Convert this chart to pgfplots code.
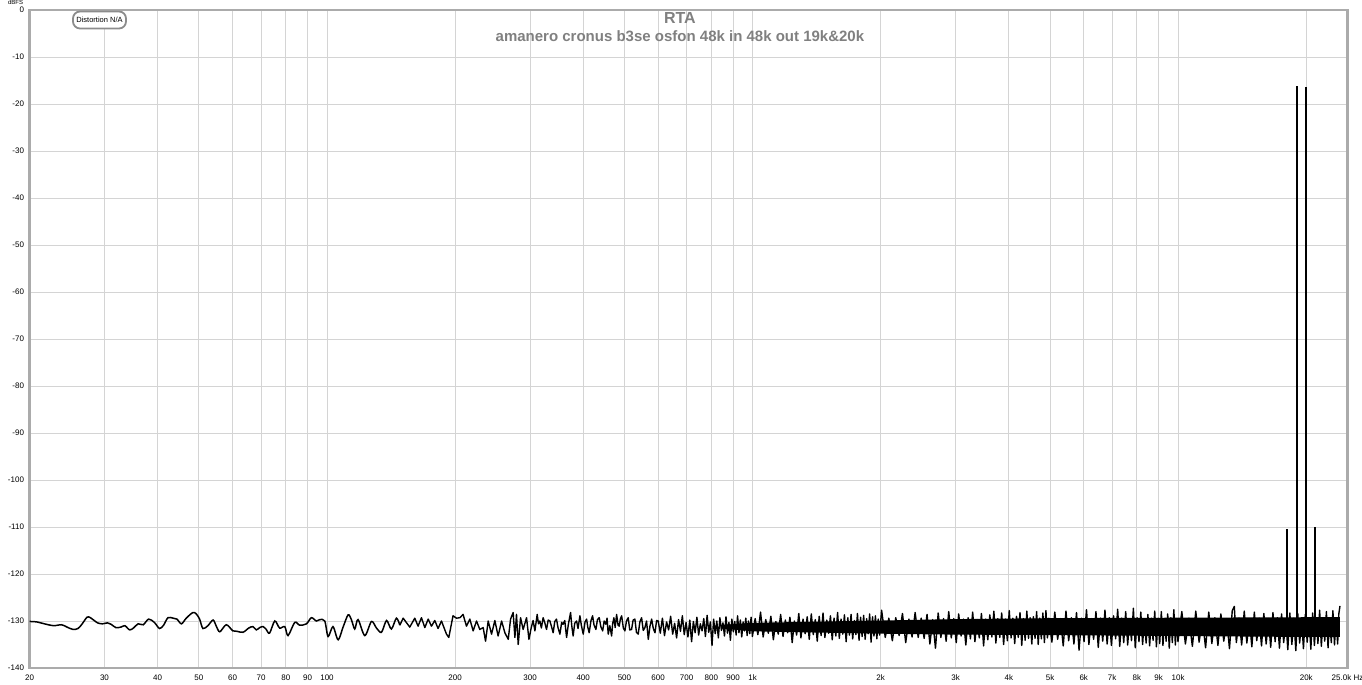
\documentclass[border=0pt]{standalone}
\usepackage{fontspec}
\setmainfont{Liberation Sans}
\usepackage{pgfplots}
\pgfplotsset{compat=1.18}

\begin{document}
\begin{tikzpicture}
\begin{axis}[
    scale only axis,
    width=1318pt, height=658pt,
    xmode=log,
    xmin=20, xmax=25000,
    ymin=-140, ymax=0,
    xtick={20,30,40,50,60,70,80,90,100,200,300,400,500,600,700,800,900,1000,2000,3000,4000,5000,6000,7000,8000,9000,10000,20000,25000},
    xticklabels={20,30,40,50,60,70,80,90,100,200,300,400,500,600,700,800,900,1k,2k,3k,4k,5k,6k,7k,8k,9k,10k,20k,25.0k Hz},
    ytick={0,-10,-20,-30,-40,-50,-60,-70,-80,-90,-100,-110,-120,-130,-140},
    yticklabels={0,-10,-20,-30,-40,-50,-60,-70,-80,-90,-100,-110,-120,-130,-140},
    grid=major,
    major grid style={draw=black!17, line width=0.9pt},
    major tick length=0pt,
    axis line style={draw=black!33, line width=2.6pt},
    tick label style={font=\fontsize{8}{9}\selectfont, text=black},
    xticklabel style={yshift=-3.5pt},
    yticklabel style={xshift=-2pt},
    clip mode=individual,
]

% low frequency part, smooth
\addplot[black, line width=1.5pt, smooth] coordinates {
(20,-130.1)(20.8,-130.2)(21.9,-130.7)(22.8,-131.0)(23.8,-130.8)(24.5,-131.3)(25.3,-131.8)(26.0,-131.6)
(26.6,-130.6)(27.3,-129.2)(27.8,-129.3)(28.9,-130.4)(29.7,-130.6)(30.5,-130.4)(31.1,-130.7)(31.9,-131.4)
(32.8,-131.3)(33.5,-131.0)(34.4,-131.9)(35.2,-131.4)(36.0,-130.6)(37.0,-130.8)(38.1,-129.6)(39.3,-130.3)
(40.4,-131.6)(41.3,-130.9)(42.3,-129.3)(43.5,-129.4)(44.4,-129.6)(45.5,-130.6)(46.7,-129.4)(48.4,-128.2)
(49.3,-128.5)(50.2,-129.6)(51.1,-131.6)(52.5,-131.0)(54.0,-129.8)(55.0,-131.2)(56.0,-132.3)(58.0,-130.8)
(60.1,-132.1)(61.5,-132.2)(63.5,-132.4)(65.5,-131.5)(67.0,-131.2)(68.2,-131.9)(69.5,-131.4)(70.8,-131.2)
(72.0,-131.8)(73.3,-132.6)(75.4,-130.0)(77.4,-131.5)(79.6,-131.2)(81.0,-133.1)(84.0,-130.3)(86.3,-130.9)
(89.5,-130.6)(91.9,-129.3)(94.4,-130.0)(96.2,-129.7)(98.8,-130.0)(100.6,-133.3)(103.3,-131.2)(106.2,-134.0)
(109.1,-131.3)(112.1,-128.7)(114.1,-129.7)(116.2,-131.7)(118.3,-129.7)(122.7,-133.1)(127.2,-130.1)(130.7,-131.5)
(134.3,-132.4)(138.0,-129.9)(141.7,-131.7)(145.6,-129.4)(148.3,-130.9)
};

% dense noise core
\addplot[fill=black, draw=none] coordinates {
(850,-130.8)(1000,-130.4)(1500,-130.1)(2000,-129.9)(3000,-129.6)(5000,-129.4)(10000,-129.3)(20000,-129.2)(24000,-129.2)
(24000,-133.4)(20000,-133.4)(10000,-133.2)(5000,-133.0)(3000,-132.9)(2000,-132.7)(1500,-132.5)(1000,-132.2)(850,-131.6)
};

% noise floor
\addplot[black, line width=1.4pt, line join=round] coordinates {
(148.3,-130.9)(151,-129.4)(156.5,-131.3)(160.8,-129.4)(163.7,-131.1)(166.7,-129.3)(169.8,-131.4)(172.9,-129.6)
(176,-131.1)(179.2,-129.9)(182.4,-131.6)(185.8,-130.0)(190.9,-132.8)(193.3,-133.5)(197.8,-128.9)(201.5,-129.4)
(205.2,-129.3)(208.8,-128.6)(212.7,-131.1)(216.6,-129.6)(220.5,-132.1)(224.6,-130.0)(228.6,-131.8)(232.8,-131.4)
(235.8,-134.3)(239.2,-130.0)(243.6,-132.8)(248,-129.9)(252.4,-133.2)(257.2,-130.0)(261.8,-132.5)(266.6,-133.9)
(270,-129.6)(273.8,-128.2)(276.4,-133.5)(278.8,-128.6)(281.4,-135.0)(285,-129.3)(289,-131.8)(294.4,-129.3)
(298.2,-133.9)(302,-131.4)(305,-129.9)(308,-132.1)(311.8,-128.6)(314,-130.6)(316.4,-130.0)(319,-131.5)
(322,-129.3)(325,-130.4)(328,-131.8)(331,-129.8)(334,-130.0)(337,-131.2)(340,-132.5)(343,-130.1)
(346.2,-129.6)(349,-131.4)(352.6,-132.8)(356,-130.3)(358.8,-130.7)(362,-129.9)(365.6,-133.5)(369,-130.8)
(373.6,-128.2)(376,-131.0)(378.8,-133.2)(382,-130.5)(386,-130.0)(389,-131.6)(393,-128.9)(396,-130.9)
(400,-132.8)(404,-130.2)(407.4,-129.6)(410,-131.3)(413.2,-132.5)(417,-130.0)(420.8,-128.9)(424,-130.8)
(428.4,-131.8)(432,-129.7)(436.2,-129.3)(440,-131.2)(444.4,-132.1)(448,-130.0)(452.2,-130.7)(455,-129.4)
(458,-132.8)(462,-131.0)(466.4,-133.2)(469,-130.6)(472.2,-129.3)(475.5,-131.4)(479.2,-128.6)(483,-130.9)
(486,-131.1)(489,-129.6)(492.4,-128.9)(497,-131.5)(501.2,-132.1)(505.5,-130.0)(510.2,-129.3)(514.5,-131.9)
(519.6,-131.8)(524,-129.8)(529,-129.6)(533.5,-132.4)(538.6,-132.8)(543.5,-130.2)(548.6,-129.3)(553.5,-132.0)
(558.6,-131.4)(563.5,-130.0)(568.8,-133.9)(574,-131.1)(579.2,-129.6)(584.5,-131.6)(589.8,-132.5)(595,-129.9)
(600.2,-130.0)(607,-132.6)(614,-129.4)(621,-133.1)(628,-130.2)(635,-131.9)(642,-129.0)(649,-132.8)
(656,-130.5)(663,-133.6)(670,-129.7)(677,-132.2)(684,-128.9)(691,-132.9)(698,-130.3)(705,-133.4)
(712,-129.8)(719,-134.4)(726,-130.1)(733,-132.5)(740,-129.2)(747,-133.0)(754,-130.6)(761,-132.1)
(768,-129.5)(775,-133.3)(782,-128.8)(789,-132.4)(796,-130.2)(803,-135.2)(810,-129.6)(817,-132.7)
(824,-130.0)(831,-133.6)(838,-129.3)(845,-132.0)(852,-130.4)(859,-133.2)(866,-129.1)(873,-132.6)
(880,-130.3)(887,-134.1)(894,-129.6)(901,-132.3)(908,-130.1)(915,-133.0)(922,-128.9)(929,-132.5)
(936,-129.8)(943,-133.4)(950,-130.2)(957,-132.1)(964,-129.4)(971,-133.1)(978,-130.0)(985,-132.7)
(992,-129.2)(999,-133.3)(1014,-129.5)(1029,-132.9)(1044,-128.1)(1059,-133.4)(1074,-129.7)(1089,-132.6)
(1104,-129.0)(1119,-134.0)(1134,-130.1)(1149,-132.8)(1164,-128.6)(1179,-133.3)(1194,-129.8)(1209,-132.5)
(1224,-129.2)(1239,-134.6)(1254,-130.0)(1269,-133.0)(1284,-128.4)(1299,-133.6)(1314,-129.6)(1329,-132.7)
(1344,-129.1)(1359,-133.9)(1374,-128.5)(1389,-132.9)(1404,-129.7)(1419,-134.3)(1434,-129.0)(1449,-133.1)
(1464,-128.3)(1479,-133.5)(1494,-129.8)(1509,-132.6)(1524,-128.9)(1539,-134.0)(1554,-129.4)(1569,-133.2)
(1584,-128.2)(1599,-133.7)(1614,-129.6)(1629,-132.8)(1644,-128.7)(1659,-134.4)(1674,-129.3)(1689,-133.0)
(1704,-128.6)(1719,-133.8)(1734,-129.9)(1749,-132.9)(1764,-128.4)(1779,-134.1)(1794,-129.2)(1809,-133.3)
(1824,-128.8)(1839,-133.9)(1854,-129.5)(1869,-132.7)(1884,-128.5)(1899,-134.5)(1914,-129.1)(1929,-133.2)
(1944,-128.9)(1959,-133.8)(1974,-129.6)(1989,-133.0)(2010,-127.7)(2050,-133.5)(2090,-129.4)(2130,-134.2)
(2170,-129.3)(2210,-133.1)(2250,-128.4)(2290,-134.6)(2330,-129.6)(2370,-133.4)(2410,-128.2)(2450,-133.5)
(2490,-129.4)(2530,-133.7)(2570,-128.6)(2610,-134.9)(2650,-129.7)(2690,-135.8)(2730,-128.3)(2770,-133.5)
(2810,-129.5)(2850,-134.3)(2890,-128.0)(2930,-133.6)(2970,-129.5)(3010,-134.6)(3050,-128.5)(3090,-133.2)
(3130,-129.6)(3170,-135.1)(3210,-129.3)(3250,-133.8)(3290,-128.1)(3330,-134.4)(3370,-129.7)(3410,-133.6)
(3450,-128.4)(3490,-135.3)(3530,-129.6)(3570,-134.0)(3610,-128.7)(3650,-133.4)(3690,-127.9)(3730,-134.7)
(3770,-129.5)(3810,-133.5)(3850,-128.3)(3890,-135.0)(3930,-129.6)(3970,-134.2)(4010,-127.8)(4050,-133.6)
(4090,-129.4)(4130,-134.8)(4170,-129.0)(4210,-133.5)(4250,-128.2)(4290,-135.2)(4330,-129.5)(4370,-134.1)
(4410,-127.9)(4450,-133.7)(4490,-129.3)(4530,-134.9)(4570,-129.1)(4610,-133.7)(4650,-128.0)(4690,-135.0)
(4730,-129.4)(4770,-133.8)(4810,-128.3)(4850,-134.6)(4890,-127.8)(4930,-133.6)(4970,-129.4)(5050,-134.5)
(5130,-128.1)(5210,-133.9)(5290,-129.5)(5370,-135.3)(5450,-127.9)(5530,-134.2)(5610,-129.3)(5690,-134.9)
(5770,-128.2)(5850,-136.2)(5930,-129.4)(6010,-134.4)(6090,-127.6)(6170,-135.0)(6250,-129.5)(6330,-133.9)
(6410,-128.0)(6490,-135.6)(6570,-129.4)(6650,-134.3)(6730,-127.7)(6810,-134.9)(6890,-129.3)(6970,-135.2)
(7050,-128.9)(7130,-133.8)(7210,-127.5)(7290,-135.4)(7370,-129.4)(7450,-134.6)(7530,-128.0)(7610,-135.1)
(7690,-129.5)(7770,-134.2)(7850,-127.3)(7930,-135.7)(8010,-129.3)(8090,-134.4)(8170,-128.1)(8250,-135.0)
(8330,-129.6)(8410,-134.7)(8490,-128.6)(8570,-135.3)(8650,-129.4)(8730,-134.1)(8810,-127.9)(8890,-135.5)
(8970,-129.4)(9050,-134.8)(9130,-128.0)(9210,-135.2)(9290,-129.5)(9370,-134.3)(9450,-128.5)(9530,-135.8)
(9610,-129.3)(9690,-134.6)(9770,-127.6)(9850,-135.1)(9930,-129.5)(9990,-134.4)(10200,-128.0)(10400,-134.9)
(10600,-129.4)(10800,-135.4)(11000,-127.9)(11200,-134.5)(11400,-129.6)(11600,-135.7)(11800,-128.1)(12000,-134.8)
(12200,-129.3)(12400,-135.2)(12600,-128.5)(12800,-134.3)(13000,-129.5)(13200,-135.9)(13400,-127.8)(13550,-126.9)
(13700,-134.6)(13900,-129.4)(14100,-135.1)(14300,-127.9)(14500,-134.7)(14700,-129.6)(14900,-135.5)(15100,-128.1)
(15300,-134.2)(15500,-129.4)(15700,-135.3)(15900,-128.4)(16100,-134.9)(16300,-129.5)(16500,-135.6)(16700,-128.2)
(16900,-134.4)(17100,-129.3)(17300,-135.8)(17500,-128.5)(17700,-134.6)(17900,-129.6)(18100,-136.1)(18300,-128.3)
(18500,-135.0)(18700,-129.4)(18900,-136.3)(19100,-128.4)(19300,-134.7)(19500,-129.5)(19700,-135.9)(19900,-128.6)
(20100,-134.5)(20300,-129.3)(20500,-136.0)(20700,-128.3)(20900,-135.2)(21100,-129.5)(21300,-134.8)(21500,-127.7)
(21700,-135.4)(21900,-129.4)(22100,-134.3)(22300,-128.0)(22500,-135.7)(22700,-129.6)(22900,-134.6)(23100,-127.8)
(23300,-135.1)(23500,-129.3)(23700,-134.9)(23850,-128.5)(24000,-126.8)
};

% test tones and IMD products
\addplot[black, line width=1.8pt] coordinates {(18000,-132)(18000,-110.4)};
\addplot[black, line width=1.8pt] coordinates {(19000,-132)(19000,-16.2)};
\addplot[black, line width=1.8pt] coordinates {(20000,-132)(20000,-16.3)};
\addplot[black, line width=1.8pt] coordinates {(21000,-132)(21000,-109.9)};

\node[font=\bfseries\fontsize{16}{16}\selectfont, text=black!50, anchor=base, yshift=-14pt]
  at (rel axis cs:0.4935,1) {RTA};
\node[font=\bfseries\fontsize{15}{15}\selectfont, text=black!50, anchor=base, yshift=-31.7pt]
  at (rel axis cs:0.4935,1) {amanero cronus b3se osfon 48k in 48k out 19k\&20k};
\node[draw=black!45, line width=1.8pt, rounded corners=7pt, fill=white, minimum width=53pt,
  minimum height=17pt, inner sep=1pt, font=\fontsize{7.5}{8}\selectfont, xshift=70pt, yshift=-10pt]
  at (rel axis cs:0,1) {Distortion N/A};
\node[font=\fontsize{6}{6}\selectfont, anchor=base, xshift=-14pt, yshift=5pt]
  at (rel axis cs:0,1) {dBFS};

\coordinate (bl) at (rel axis cs:0,0);
\coordinate (tr) at (rel axis cs:1,1);
\end{axis}
\pgfresetboundingbox
\path[use as bounding box] ([shift={(-29.5pt,-17pt)}]bl) rectangle ([shift={(14.5pt,10pt)}]tr);
\end{tikzpicture}
\end{document}
